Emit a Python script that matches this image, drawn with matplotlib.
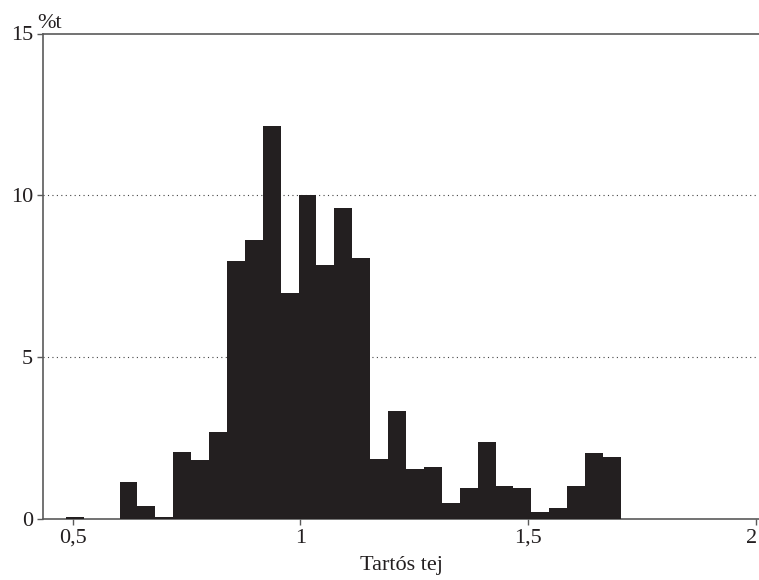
import numpy as np
import matplotlib
matplotlib.use("Agg")
import matplotlib.pyplot as plt
import matplotlib.transforms as mtransforms

# histogram of "Tartós tej" (share in %)
bin_start = 0.485
bin_width = 0.0393
percent = [0.05, 0, 0, 1.14, 0.40, 0.05, 2.06, 1.81, 2.70, 7.96,
           8.61, 12.13, 6.98, 10.0, 7.84, 9.60, 8.06, 1.85, 3.33, 1.54,
           1.60, 0.49, 0.96, 2.38, 1.02, 0.96, 0.22, 0.35, 1.02, 2.04,
           1.91]

x_ticks = [0.5, 1, 1.5, 2]
x_labels = ["0,5", "1", "1,5", "2"]
y_ticks = [0, 5, 10, 15]
y_labels = ["0", "5", "10", "15"]

plt.rcParams['font.family'] = ['Liberation Serif', 'DejaVu Serif']

fig = plt.figure(figsize=(7.59, 5.80), dpi=100)
ax = fig.add_axes([43/759, 61/580, 716/759, 485.5/580])

left_edges = bin_start + bin_width * np.arange(len(percent))
ax.bar(left_edges, percent, width=bin_width, align='edge',
       color='#231f20', edgecolor='none', zorder=3)

# dotted reference lines
for y in [5, 10]:
    ax.axhline(y, color='#444444', lw=0.8, linestyle=(0, (1, 3)), zorder=1)

ax.set_xlim(0.4349, 2.0066)
ax.set_ylim(0, 15)

ax.set_xticks(x_ticks)
ax.set_xticklabels(x_labels)
ax.set_yticks(y_ticks)
ax.set_yticklabels(y_labels)

axis_col = '#5a5a5a'
for side in ['left', 'top', 'bottom']:
    ax.spines[side].set_color(axis_col)
    ax.spines[side].set_linewidth(1.2)
ax.spines['right'].set_visible(False)

ax.tick_params(axis='both', colors=axis_col, labelcolor='#231f20',
               labelsize=16, length=4, width=1.0, pad=3)

# last x label sits against the figure edge, nudge it in
last = ax.get_xticklabels()[-1]
last.set_transform(last.get_transform() +
                   mtransforms.ScaledTranslation(-4/100, 0, fig.dpi_scale_trans))

ax.set_xlabel("Tartós tej", fontsize=16, color='#231f20', labelpad=6)
ax.text(-0.008, 1.0, "%t", transform=ax.transAxes, fontsize=16,
        color='#231f20', ha='left', va='bottom')

fig.savefig("out.png", dpi=100)
